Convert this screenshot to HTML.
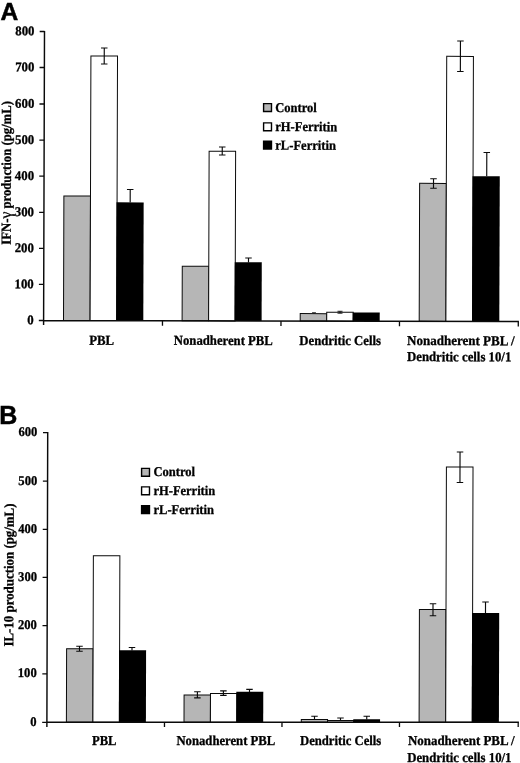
<!DOCTYPE html>
<html><head><meta charset="utf-8"><title>Figure</title>
<style>
html,body{margin:0;padding:0;background:#fff;}
body{width:520px;height:763px;overflow:hidden;}
#w{width:520px;height:763px;will-change:transform;transform:translateZ(0);}
svg{display:block;}
text{font-family:"Liberation Serif",serif;font-weight:bold;fill:#000;stroke:#000;stroke-width:0.3px;}
.s{font-family:"Liberation Sans",sans-serif;font-weight:bold;stroke-width:0.5px;}
</style></head><body><div id="w">
<svg width="520" height="763" viewBox="0 0 520 763">

<text class="s" x="0.4" y="19.7" font-size="24.6">A</text>
<g transform="matrix(1 0.0025 -0.0031 1 0.9932 -0.1090)">
<path d="M38.80 320.5H43.60" stroke="#0a0a0a" stroke-width="1.3"/>
<text x="27.25" y="324.40" font-size="13.2" textLength="6.40" lengthAdjust="spacingAndGlyphs">0</text>
<path d="M38.80 284.4H43.60" stroke="#0a0a0a" stroke-width="1.3"/>
<text x="14.45" y="288.30" font-size="13.2" textLength="19.20" lengthAdjust="spacingAndGlyphs">100</text>
<path d="M38.80 248.3H43.60" stroke="#0a0a0a" stroke-width="1.3"/>
<text x="14.45" y="252.20" font-size="13.2" textLength="19.20" lengthAdjust="spacingAndGlyphs">200</text>
<path d="M38.80 212.3H43.60" stroke="#0a0a0a" stroke-width="1.3"/>
<text x="14.45" y="216.20" font-size="13.2" textLength="19.20" lengthAdjust="spacingAndGlyphs">300</text>
<path d="M38.80 176.2H43.60" stroke="#0a0a0a" stroke-width="1.3"/>
<text x="14.45" y="180.10" font-size="13.2" textLength="19.20" lengthAdjust="spacingAndGlyphs">400</text>
<path d="M38.80 140.1H43.60" stroke="#0a0a0a" stroke-width="1.3"/>
<text x="14.45" y="144.00" font-size="13.2" textLength="19.20" lengthAdjust="spacingAndGlyphs">500</text>
<path d="M38.80 104.0H43.60" stroke="#0a0a0a" stroke-width="1.3"/>
<text x="14.45" y="107.90" font-size="13.2" textLength="19.20" lengthAdjust="spacingAndGlyphs">600</text>
<path d="M38.80 67.5H43.60" stroke="#0a0a0a" stroke-width="1.3"/>
<text x="14.45" y="71.40" font-size="13.2" textLength="19.20" lengthAdjust="spacingAndGlyphs">700</text>
<path d="M38.80 31.5H43.60" stroke="#0a0a0a" stroke-width="1.3"/>
<text x="14.45" y="35.40" font-size="13.2" textLength="19.20" lengthAdjust="spacingAndGlyphs">800</text>
<rect x="63.50" y="195.92" width="26.60" height="124.48" fill="#b6b6b6" stroke="#0a0a0a" stroke-width="1.0"/>
<rect x="90.10" y="55.85" width="26.60" height="264.55" fill="#fff" stroke="#0a0a0a" stroke-width="1.0"/>
<rect x="116.15" y="202.18" width="27.15" height="118.22" fill="#000"/>
<rect x="182.10" y="265.87" width="26.50" height="54.53" fill="#b6b6b6" stroke="#0a0a0a" stroke-width="1.0"/>
<rect x="208.60" y="150.80" width="26.50" height="169.60" fill="#fff" stroke="#0a0a0a" stroke-width="1.0"/>
<rect x="234.55" y="261.79" width="27.05" height="58.61" fill="#000"/>
<rect x="300.20" y="312.93" width="26.50" height="7.47" fill="#b6b6b6" stroke="#0a0a0a" stroke-width="1.0"/>
<rect x="326.70" y="311.56" width="26.50" height="8.84" fill="#fff" stroke="#0a0a0a" stroke-width="1.0"/>
<rect x="352.65" y="311.69" width="27.05" height="8.71" fill="#000"/>
<rect x="419.20" y="182.43" width="26.70" height="137.97" fill="#b6b6b6" stroke="#0a0a0a" stroke-width="1.0"/>
<rect x="445.90" y="55.36" width="26.70" height="265.04" fill="#fff" stroke="#0a0a0a" stroke-width="1.0"/>
<rect x="472.05" y="175.09" width="27.25" height="145.31" fill="#000"/>
<path d="M43.6 30.9V325.0M43.6 320.4H518.9" stroke="#0a0a0a" stroke-width="1.45" fill="none"/>
<path d="M162.5 320.4V325.4" stroke="#0a0a0a" stroke-width="1.3"/>
<path d="M281 320.4V325.4" stroke="#0a0a0a" stroke-width="1.3"/>
<path d="M399.5 320.4V325.4" stroke="#0a0a0a" stroke-width="1.3"/>
<path d="M518.3 320.4V325.4" stroke="#0a0a0a" stroke-width="1.3"/>
<g transform="translate(10.45,244.8) rotate(-90)"><text x="0" y="0" font-size="13.9" textLength="143.6" lengthAdjust="spacingAndGlyphs">IFN-<tspan font-size="17" font-weight="normal" dy="0.6">γ</tspan><tspan dy="-0.6"> production (pg/mL)</tspan></text></g>
<path d="M103.43 47.85V63.85M100.18 47.85H106.68M100.18 63.85H106.68" stroke="#0a0a0a" stroke-width="1.15" fill="none"/>
<path d="M129.81 189.28V202.28M126.56 189.28H133.06" stroke="#0a0a0a" stroke-width="1.15" fill="none"/>
<path d="M221.72 146.55V154.55M218.47 146.55H224.97M218.47 154.55H224.97" stroke="#0a0a0a" stroke-width="1.15" fill="none"/>
<path d="M248.31 257.49V261.99M245.06 257.49H251.56" stroke="#0a0a0a" stroke-width="1.15" fill="none"/>
<path d="M433.08 177.78V187.28M429.83 177.78H436.33M429.83 187.28H436.33" stroke="#0a0a0a" stroke-width="1.15" fill="none"/>
<path d="M459.58 39.96V70.46M456.33 39.96H462.83M456.33 70.46H462.83" stroke="#0a0a0a" stroke-width="1.15" fill="none"/>
<path d="M486.27 151.39V175.14M483.02 151.39H489.52" stroke="#0a0a0a" stroke-width="1.15" fill="none"/>
<path d="M339.97 310.56V312.46M337.47 310.56H342.47M337.47 312.46H342.47" stroke="#0a0a0a" stroke-width="0.9" fill="none"/>
<path d="M313.98 311.92V312.92M311.98 311.92H315.98" stroke="#0a0a0a" stroke-width="0.7" fill="none"/>
<rect x="262.93" y="103.05" width="7.9" height="7.9" fill="#b6b6b6" stroke="#000" stroke-width="1.4"/>
<text x="274.65" y="111.37" font-size="13.5" textLength="41.50" lengthAdjust="spacingAndGlyphs">Control</text>
<rect x="262.99" y="122.35" width="7.9" height="7.9" fill="#fff" stroke="#000" stroke-width="1.4"/>
<text x="274.71" y="130.44" font-size="13.5" textLength="61.90" lengthAdjust="spacingAndGlyphs">rH-Ferritin</text>
<rect x="263.04" y="140.65" width="7.9" height="7.9" fill="#000" stroke="#000" stroke-width="1.4"/>
<text x="274.77" y="149.04" font-size="13.5" textLength="60.60" lengthAdjust="spacingAndGlyphs">rL-Ferritin</text>
<text x="89.28" y="344.56" font-size="13.6" textLength="24.80" lengthAdjust="spacingAndGlyphs">PBL</text>
<text x="173.88" y="344.45" font-size="13.6" textLength="99.00" lengthAdjust="spacingAndGlyphs">Nonadherent PBL</text>
<text x="299.38" y="344.26" font-size="13.6" textLength="81.70" lengthAdjust="spacingAndGlyphs">Dendritic Cells</text>
<text x="407.08" y="344.06" font-size="13.6" textLength="107.50" lengthAdjust="spacingAndGlyphs">Nonadherent PBL /</text>
<text x="407.13" y="360.16" font-size="13.6" textLength="104.30" lengthAdjust="spacingAndGlyphs">Dendritic cells 10/1</text>
</g>
<text class="s" x="-0.8" y="423.6" font-size="25">B</text>
<g transform="matrix(1 0.0 -0.0028 1 2.0224 -0.0000)">
<path d="M42.199999999999996 722.3H46.9" stroke="#0a0a0a" stroke-width="1.3"/>
<text x="30.30" y="726.00" font-size="13.2" textLength="6.30" lengthAdjust="spacingAndGlyphs">0</text>
<path d="M42.199999999999996 673.8H46.9" stroke="#0a0a0a" stroke-width="1.3"/>
<text x="17.70" y="677.50" font-size="13.2" textLength="18.90" lengthAdjust="spacingAndGlyphs">100</text>
<path d="M42.199999999999996 625.6H46.9" stroke="#0a0a0a" stroke-width="1.3"/>
<text x="17.70" y="629.30" font-size="13.2" textLength="18.90" lengthAdjust="spacingAndGlyphs">200</text>
<path d="M42.199999999999996 577.4H46.9" stroke="#0a0a0a" stroke-width="1.3"/>
<text x="17.70" y="581.10" font-size="13.2" textLength="18.90" lengthAdjust="spacingAndGlyphs">300</text>
<path d="M42.199999999999996 529.3H46.9" stroke="#0a0a0a" stroke-width="1.3"/>
<text x="17.70" y="533.00" font-size="13.2" textLength="18.90" lengthAdjust="spacingAndGlyphs">400</text>
<path d="M42.199999999999996 481.2H46.9" stroke="#0a0a0a" stroke-width="1.3"/>
<text x="17.70" y="484.90" font-size="13.2" textLength="18.90" lengthAdjust="spacingAndGlyphs">500</text>
<path d="M42.199999999999996 432.7H46.9" stroke="#0a0a0a" stroke-width="1.3"/>
<text x="17.70" y="436.40" font-size="13.2" textLength="18.90" lengthAdjust="spacingAndGlyphs">600</text>
<rect x="66.40" y="648.75" width="26.50" height="73.55" fill="#b6b6b6" stroke="#0a0a0a" stroke-width="1.0"/>
<rect x="92.90" y="555.75" width="26.50" height="166.55" fill="#fff" stroke="#0a0a0a" stroke-width="1.0"/>
<rect x="118.85" y="650.30" width="27.05" height="72.00" fill="#000"/>
<rect x="184.00" y="695.00" width="26.40" height="27.30" fill="#b6b6b6" stroke="#0a0a0a" stroke-width="1.0"/>
<rect x="210.40" y="693.40" width="26.40" height="28.90" fill="#fff" stroke="#0a0a0a" stroke-width="1.0"/>
<rect x="236.25" y="691.80" width="26.95" height="30.50" fill="#000"/>
<rect x="301.30" y="719.50" width="26.25" height="2.80" fill="#b6b6b6" stroke="#0a0a0a" stroke-width="1.0"/>
<rect x="327.55" y="720.50" width="26.25" height="1.80" fill="#fff" stroke="#0a0a0a" stroke-width="1.0"/>
<rect x="353.25" y="719.30" width="26.80" height="3.00" fill="#000"/>
<rect x="419.10" y="609.50" width="26.60" height="112.80" fill="#b6b6b6" stroke="#0a0a0a" stroke-width="1.0"/>
<rect x="445.70" y="467.00" width="26.60" height="255.30" fill="#fff" stroke="#0a0a0a" stroke-width="1.0"/>
<rect x="471.75" y="613.05" width="27.15" height="109.25" fill="#000"/>
<path d="M46.9 431.9V726.9M46.9 722.3H518.9" stroke="#0a0a0a" stroke-width="1.45" fill="none"/>
<path d="M164.5 722.3V726.9" stroke="#0a0a0a" stroke-width="1.3"/>
<path d="M282 722.3V726.9" stroke="#0a0a0a" stroke-width="1.3"/>
<path d="M399.5 722.3V726.9" stroke="#0a0a0a" stroke-width="1.3"/>
<path d="M518.2 722.3V726.9" stroke="#0a0a0a" stroke-width="1.3"/>
<g transform="translate(13.09,646.5) rotate(-90)"><text x="0" y="0" font-size="13.9" textLength="143" lengthAdjust="spacingAndGlyphs">IL-10 production (pg/mL)</text></g>
<path d="M79.29 646.25V651.25M76.04 646.25H82.54M76.04 651.25H82.54" stroke="#0a0a0a" stroke-width="1.15" fill="none"/>
<path d="M131.79 647.50V650.50M128.54 647.50H135.04" stroke="#0a0a0a" stroke-width="1.15" fill="none"/>
<path d="M197.32 691.70V697.80M194.07 691.70H200.57M194.07 697.80H200.57" stroke="#0a0a0a" stroke-width="1.15" fill="none"/>
<path d="M223.32 690.90V695.30M220.07 690.90H226.57M220.07 695.30H226.57" stroke="#0a0a0a" stroke-width="1.15" fill="none"/>
<path d="M249.41 689.30V692.00M246.16 689.30H252.66" stroke="#0a0a0a" stroke-width="1.15" fill="none"/>
<path d="M314.49 716.25V719.50M311.24 716.25H317.74" stroke="#0a0a0a" stroke-width="1.15" fill="none"/>
<path d="M340.49 718.00V720.50M337.24 718.00H343.74" stroke="#0a0a0a" stroke-width="1.15" fill="none"/>
<path d="M366.74 716.25V719.50M363.49 716.25H369.99" stroke="#0a0a0a" stroke-width="1.15" fill="none"/>
<path d="M432.68 603.75V615.75M429.43 603.75H435.93M429.43 615.75H435.93" stroke="#0a0a0a" stroke-width="1.15" fill="none"/>
<path d="M459.29 452.00V482.50M456.04 452.00H462.54M456.04 482.50H462.54" stroke="#0a0a0a" stroke-width="1.15" fill="none"/>
<path d="M485.18 602.00V613.25M481.93 602.00H488.43" stroke="#0a0a0a" stroke-width="1.15" fill="none"/>
<rect x="140.89" y="468.40" width="7.9" height="7.9" fill="#b6b6b6" stroke="#000" stroke-width="1.4"/>
<text x="152.81" y="476.40" font-size="13.5" textLength="41.50" lengthAdjust="spacingAndGlyphs">Control</text>
<rect x="140.94" y="486.90" width="7.9" height="7.9" fill="#fff" stroke="#000" stroke-width="1.4"/>
<text x="152.86" y="495.20" font-size="13.5" textLength="61.70" lengthAdjust="spacingAndGlyphs">rH-Ferritin</text>
<rect x="140.99" y="505.60" width="7.9" height="7.9" fill="#000" stroke="#000" stroke-width="1.4"/>
<text x="152.92" y="513.70" font-size="13.5" textLength="60.50" lengthAdjust="spacingAndGlyphs">rL-Ferritin</text>
<text x="92.06" y="745.50" font-size="13.6" textLength="24.50" lengthAdjust="spacingAndGlyphs">PBL</text>
<text x="176.46" y="745.50" font-size="13.6" textLength="98.90" lengthAdjust="spacingAndGlyphs">Nonadherent PBL</text>
<text x="300.06" y="745.50" font-size="13.6" textLength="81.25" lengthAdjust="spacingAndGlyphs">Dendritic Cells</text>
<text x="408.06" y="745.50" font-size="13.6" textLength="106.70" lengthAdjust="spacingAndGlyphs">Nonadherent PBL /</text>
<text x="407.31" y="761.60" font-size="13.6" textLength="104.30" lengthAdjust="spacingAndGlyphs">Dendritic cells 10/1</text>
</g>
</svg></div></body></html>
